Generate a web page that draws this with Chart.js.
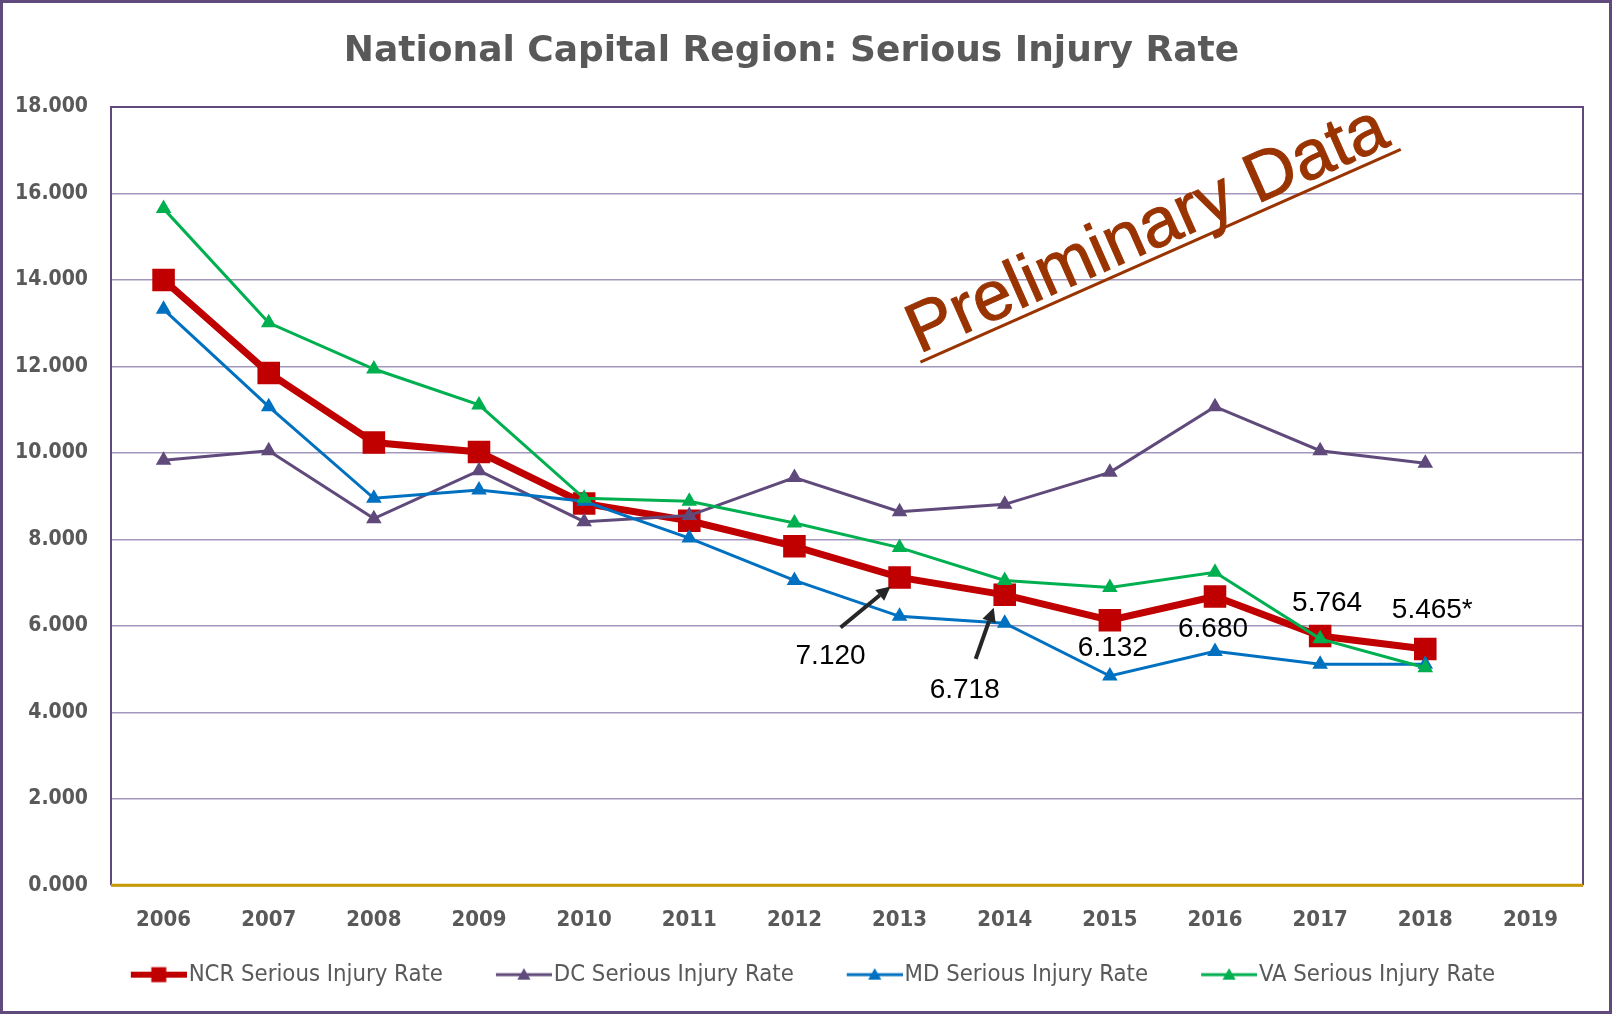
<!DOCTYPE html>
<html>
<head>
<meta charset="utf-8">
<script src="https://cdn.jsdelivr.net/npm/chart.js@4.4.1/dist/chart.umd.min.js"></script>
<style>
  html, body { margin: 0; padding: 0; background: #fff; }
  #wrap { width: 1612px; height: 1014px; }
</style>
</head>
<body>
<div id="wrap"><canvas id="chart" width="1612" height="1014"></canvas></div>
<script>
// data
const years = ['2006','2007','2008','2009','2010','2011','2012','2013','2014','2015','2016','2017','2018','2019'];
const ncrRate = [14.00, 11.85, 10.24, 10.02, 8.83, 8.43, 7.84, 7.120, 6.718, 6.132, 6.680, 5.764, 5.465];
const dcRate  = [9.83, 10.05, 8.48, 9.59, 8.41, 8.55, 9.43, 8.64, 8.81, 9.55, 11.07, 10.05, 9.76];
const mdRate  = [13.32, 11.07, 8.95, 9.14, 8.88, 8.03, 7.05, 6.22, 6.06, 4.84, 5.41, 5.11, 5.11];
const vaRate  = [15.65, 13.01, 11.94, 11.11, 8.95, 8.88, 8.38, 7.81, 7.05, 6.89, 7.24, 5.70, 5.03];
const seriesNames = ['NCR Serious Injury Rate','DC Serious Injury Rate','MD Serious Injury Rate','VA Serious Injury Rate'];

// labels written next to some NCR points
const calloutYears = ['2013','2014','2015','2016','2017','2018'];
const calloutTexts = ['7.120','6.718','6.132','6.680','5.764','5.465*'];
const arrowYears = ['2013','2014'];

const RED = '#C00000', PURPLE = '#604A7B', BLUE = '#0070C0', GREEN = '#00B050';
const NARROW = "'Liberation Sans Narrow', 'Arial Narrow', 'DejaVu Sans Condensed', sans-serif";

// line+marker icons for the legend; the icon is wider than its legend box so the
// symbol runs up close to the text, and the transparent left part spaces the items
const BOX_W = 89, ICON_W = 109;
function legendIcon(color, lineW, shape, size) {
    const c = document.createElement('canvas');
    c.width = ICON_W; c.height = 24;
    const g = c.getContext('2d');
    const x0 = ICON_W - 56, cx = x0 + 28;
    g.strokeStyle = color; g.fillStyle = color; g.lineWidth = lineW;
    g.beginPath(); g.moveTo(x0, 12); g.lineTo(ICON_W, 12); g.stroke();
    if (shape === 'rect') {
        g.fillRect(cx - size/2, 12 - size/2, size, size);
    } else {
        g.beginPath();
        g.moveTo(cx, 12 - size*0.6);
        g.lineTo(cx + size*0.6, 12 + size*0.45);
        g.lineTo(cx - size*0.6, 12 + size*0.45);
        g.closePath(); g.fill();
    }
    return c;
}
const legendIcons = [
    legendIcon(RED, 6, 'rect', 15),
    legendIcon(PURPLE, 3, 'tri', 11),
    legendIcon(BLUE, 3, 'tri', 11),
    legendIcon(GREEN, 3, 'tri', 11)
];

const decor = {
    id: 'decor',
    beforeDraw(chart) {
        const ctx = chart.ctx;
        ctx.save();
        ctx.fillStyle = '#fff';
        ctx.fillRect(0, 0, chart.width, chart.height);
        ctx.restore();
    },
    beforeDatasetsDraw(chart) {
        const {ctx, chartArea: a} = chart;
        ctx.save();
        ctx.strokeStyle = PURPLE; ctx.lineWidth = 2;
        ctx.beginPath();
        ctx.moveTo(a.left, a.bottom); ctx.lineTo(a.left, a.top);
        ctx.lineTo(a.right, a.top); ctx.lineTo(a.right, a.bottom);
        ctx.stroke();
        ctx.strokeStyle = '#C99A06'; ctx.lineWidth = 3;
        ctx.beginPath(); ctx.moveTo(a.left, a.bottom); ctx.lineTo(a.right, a.bottom); ctx.stroke();

        // Preliminary Data stamp
        ctx.translate(919, 354);
        ctx.rotate(-23.9 * Math.PI / 180);
        ctx.font = "70px 'Liberation Sans', Arial, sans-serif";
        ctx.fillStyle = '#993300';
        ctx.strokeStyle = '#993300';
        ctx.lineWidth = 1;
        ctx.textBaseline = 'alphabetic';
        ctx.fillText('Preliminary Data', 0, 0);
        ctx.strokeText('Preliminary Data', 0, 0);
        const w = ctx.measureText('Preliminary Data').width;
        ctx.lineWidth = 3;
        ctx.beginPath(); ctx.moveTo(-2, 8); ctx.lineTo(w + 6, 8); ctx.stroke();
        ctx.restore();
    },
    afterDatasetsDraw(chart) {
        const ctx = chart.ctx;
        const meta = chart.getDatasetMeta(0);
        const offsets = {'2013': [-69, 79], '2014': [-40, 95], '2015': [3, 28], '2016': [-2, 33], '2017': [7, -33], '2018': [7, -39]};
        ctx.save();
        ctx.font = "28px 'Liberation Sans', Arial, sans-serif";
        ctx.fillStyle = '#000';
        ctx.textAlign = 'center'; ctx.textBaseline = 'middle';
        calloutYears.forEach((yr, i) => {
            const p = meta.data[years.indexOf(yr)];
            const o = offsets[yr];
            ctx.fillText(calloutTexts[i], p.x + o[0], p.y + o[1]);
        });
        // arrows pointing at 2013 and 2014
        const arrows = {'2013': [[-59, 50], [-9, 9]], '2014': [[-29, 64], [-11, 13]]};
        ctx.strokeStyle = '#262626'; ctx.fillStyle = '#262626'; ctx.lineWidth = 4;
        arrowYears.forEach(yr => {
            const p = meta.data[years.indexOf(yr)];
            const [t, h] = arrows[yr];
            const x0 = p.x + t[0], y0 = p.y + t[1], x1 = p.x + h[0], y1 = p.y + h[1];
            const ang = Math.atan2(y1 - y0, x1 - x0);
            const bx = x1 - 14 * Math.cos(ang), by = y1 - 14 * Math.sin(ang);
            ctx.beginPath(); ctx.moveTo(x0, y0); ctx.lineTo(bx, by); ctx.stroke();
            ctx.beginPath();
            ctx.moveTo(x1, y1);
            ctx.lineTo(bx + 7 * Math.sin(ang), by - 7 * Math.cos(ang));
            ctx.lineTo(bx - 7 * Math.sin(ang), by + 7 * Math.cos(ang));
            ctx.closePath(); ctx.fill();
        });
        ctx.restore();
    },
    afterDraw(chart) {
        const ctx = chart.ctx;
        ctx.save();
        ctx.strokeStyle = PURPLE; ctx.lineWidth = 3;
        ctx.strokeRect(1.5, 1.5, chart.width - 3, chart.height - 3);
        ctx.restore();
    }
};

new Chart(document.getElementById('chart'), {
    type: 'line',
    data: {
        labels: years,
        datasets: [
            { label: seriesNames[0], data: ncrRate, borderColor: RED, backgroundColor: RED, borderWidth: 7,
              pointStyle: 'rect', pointRadius: 11, pointHoverRadius: 11, order: 3 },
            { label: seriesNames[1], data: dcRate, borderColor: PURPLE, backgroundColor: PURPLE, borderWidth: 3,
              pointStyle: 'triangle', pointRadius: 6, pointHoverRadius: 6, order: 2 },
            { label: seriesNames[2], data: mdRate, borderColor: BLUE, backgroundColor: BLUE, borderWidth: 3,
              pointStyle: 'triangle', pointRadius: 6, pointHoverRadius: 6, order: 1 },
            { label: seriesNames[3], data: vaRate, borderColor: GREEN, backgroundColor: GREEN, borderWidth: 3,
              pointStyle: 'triangle', pointRadius: 6, pointHoverRadius: 6, order: 0 }
        ]
    },
    options: {
        responsive: false,
        animation: false,
        layout: { padding: { top: 0, right: 29, left: 0, bottom: 17.5 } },
        plugins: {
            title: {
                display: true,
                text: 'National Capital Region: Serious Injury Rate',
                color: '#595959',
                font: { family: "'DejaVu Sans', Verdana, sans-serif", size: 36, weight: 'bold' },
                padding: { top: 30.4, bottom: 33.4 }
            },
            legend: {
                position: 'bottom',
                labels: {
                    usePointStyle: true,
                    pointStyleWidth: BOX_W,
                    padding: 10,
                    color: '#595959',
                    font: { family: NARROW, size: 23.7 },
                    sort: (a, b) => a.datasetIndex - b.datasetIndex,
                    generateLabels(chart) {
                        const items = Chart.defaults.plugins.legend.labels.generateLabels(chart);
                        items.forEach(it => { it.pointStyle = legendIcons[it.datasetIndex]; });
                        return items;
                    }
                }
            },
            tooltip: { enabled: false }
        },
        scales: {
            x: {
                offset: true,
                grid: { display: false, drawTicks: false },
                border: { display: false },
                ticks: { color: '#595959', font: { family: NARROW, size: 22, weight: 'bold' }, padding: 22,
                         maxRotation: 0, autoSkip: false },
                afterFit(s) { s.height = 67.5; }
            },
            y: {
                min: 0, max: 18,
                grid: { color: '#A397BD', lineWidth: 1.5, drawTicks: false },
                border: { display: false },
                ticks: { stepSize: 2, color: '#595959', padding: 23,
                         font: { family: NARROW, size: 21, weight: 'bold' },
                         callback: v => v.toFixed(3) },
                afterFit(s) { s.width = 111; }
            }
        }
    },
    plugins: [decor]
});
</script>
</body>
</html>
